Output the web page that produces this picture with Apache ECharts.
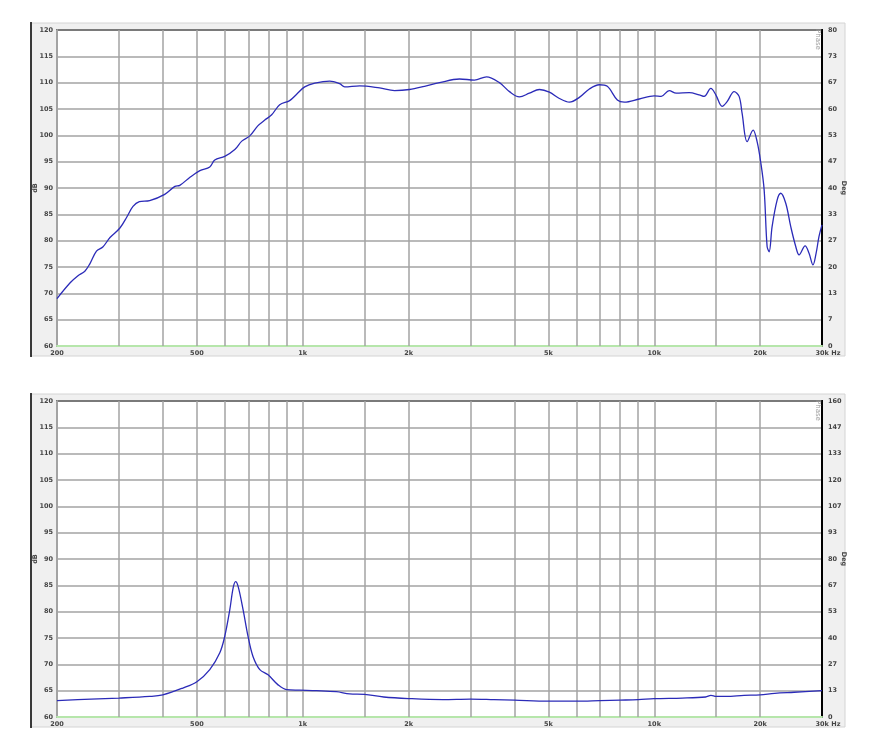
<!DOCTYPE html>
<html><head><meta charset="utf-8">
<script src="https://cdn.jsdelivr.net/npm/echarts@6/dist/echarts.min.js"></script>
<style>html,body{margin:0;padding:0;background:#fff}#c{width:875px;height:750px}</style>
</head><body><div id="c"></div>
<script>
// ---- data ----
const freqTop=[200,218,229,240,248,259,270,283,302,316,329,343,367,405,433,447,477,510,544,562,600,641,671,707,745,780,816,860,918,961,1013,1082,1193,1274,1316,1452,1655,1825,2013,2220,2450,2792,3080,3332,3628,3874,4134,4414,4714,5032,5372,5736,6122,6536,6978,7352,7852,8218,9066,10000,10468,11028,11544,12572,13418,13864,14482,14964,15596,16114,16870,17432,17774,18374,19104,19612,20092,20540,20940,21220,21640,22360,22900,23660,24440,25260,25820,26860,27560,28280,28860,29420,30000];
const splTop=[69.0,72.0,73.3,74.2,75.6,78.0,78.8,80.6,82.4,84.5,86.5,87.4,87.6,88.8,90.3,90.5,92.0,93.3,94.0,95.3,96.0,97.3,98.9,99.9,101.8,102.9,103.9,105.8,106.6,107.8,109.2,109.9,110.3,109.8,109.2,109.4,109.0,108.5,108.7,109.3,110.0,110.7,110.5,111.1,110.0,108.3,107.3,108.0,108.7,108.2,107.0,106.3,107.2,108.8,109.6,109.3,106.7,106.3,106.9,107.5,107.4,108.5,108.0,108.1,107.7,107.4,108.9,107.7,105.5,106.4,108.3,107.4,104.2,98.8,101.0,98.8,94.8,89.6,78.9,77.9,82.7,87.7,89.0,87.1,82.7,78.9,77.3,79.0,77.6,75.4,77.6,80.8,83.0];
const freqBot=[200,250,300,367,400,456,500,544,581,600,620,634,644,655,677,699,722,755,797,851,899,980,1094,1246,1360,1500,1700,2000,2500,3000,3500,4000,5000,6000,7000,8000,9000,10000,12000,14000,14500,15000,16000,18000,20000,22000,25000,30000];
const splBot=[63.1,63.4,63.6,63.9,64.2,65.5,66.7,69.0,72.2,75.3,80.3,84.5,85.7,84.8,80.3,75.3,71.5,69.0,68.0,66.1,65.2,65.1,65.0,64.8,64.4,64.3,63.8,63.5,63.3,63.4,63.3,63.2,63.0,63.0,63.1,63.2,63.3,63.5,63.6,63.8,64.1,63.9,63.9,64.1,64.2,64.5,64.7,65.0];
const gridFreqs=[300,400,500,600,700,800,900,1000,1500,2000,3000,4000,5000,6000,7000,8000,9000,10000,15000,20000];
const labelFreqs=[200,500,1000,2000,5000,10000,20000,30000];
const labelTexts=['200','500','1k','2k','5k','10k','20k','30k Hz'];
const rightTicksTop=[0,7,13,20,27,33,40,47,53,60,67,73,80];
const rightTicksBot=[0,13,27,40,53,67,80,93,107,120,133,147,160];

// ---- styling ----
const FONT={fontFamily:'DejaVu Sans',fontWeight:'bold',fontSize:6.5,color:'#444'};
const GRIDC='#a3a3a3';
const chart=echarts.init(document.getElementById('c'),null,{renderer:'canvas'});

const grids=[{top:30},{top:401}];
function panel(top){
  return [
    {type:'rect',z:-10,shape:{x:31,y:top-7,width:814,height:333},style:{fill:'#f0f0f0',stroke:'#d4d4d4',lineWidth:1}},
    {type:'line',z:-9,shape:{x1:31,y1:top-8,x2:31,y2:top+327},style:{stroke:'#000',lineWidth:1.5}},
    {type:'text',z:50,x:821,y:top-1,rotation:-Math.PI/2,style:{text:'Phase',fill:'#999',font:'7px DejaVu Sans'}}
  ];
}
function gridMarks(){
  const d=[];
  gridFreqs.forEach(f=>d.push({xAxis:f,label:{show:false}}));
  labelFreqs.forEach((f,i)=>d.push({xAxis:f,name:labelTexts[i],lineStyle:{color:'rgba(0,0,0,0)',width:0},
    label:{show:true,position:'start',formatter:'{b}',distance:4,offset:i===labelFreqs.length-1?[6,0]:[0,0],...FONT}}));
  return d;
}
const xAxes=[],yAxes=[],series=[];
grids.forEach((g,k)=>{
  xAxes.push({type:'log',logBase:10,gridIndex:k,min:200,max:30000,
    axisLine:{onZero:false,lineStyle:{color:'#b6e6ab',width:2}},axisTick:{show:false},axisLabel:{show:false},splitLine:{show:false}});
  yAxes.push({type:'value',gridIndex:k,min:60,max:120,interval:5,position:'left',
    name:'dB',nameLocation:'middle',nameRotate:90,nameGap:18,nameMoveOverlap:false,nameTextStyle:FONT,
    axisLine:{show:true,onZero:false,lineStyle:{color:GRIDC,width:2}},axisTick:{show:false},
    axisLabel:{...FONT,margin:4},splitLine:{lineStyle:{color:GRIDC,width:1.5}}});
  const rt=k===0?rightTicksTop:rightTicksBot;
  yAxes.push({type:'value',gridIndex:k,min:0,max:12,interval:1,position:'right',
    name:'Deg',nameLocation:'middle',nameRotate:-90,nameGap:18,nameMoveOverlap:false,nameTextStyle:FONT,
    axisLine:{show:true,onZero:false,lineStyle:{color:'#000',width:2}},axisTick:{show:false},
    axisLabel:{...FONT,margin:6,formatter:v=>String(rt[v])},splitLine:{show:false}});
  const fx=k===0?freqTop:freqBot, fy=k===0?splTop:splBot;
  const pts=fx.map((f,i)=>[f,fy[i]]);
  series.push({type:'line',xAxisIndex:k,yAxisIndex:2*k,data:pts,z:1,silent:true,showSymbol:false,
    lineStyle:{color:'rgba(0,0,0,0)'},
    markLine:{silent:true,symbol:['none','none'],animation:false,
      lineStyle:{type:'solid',color:GRIDC,width:1.5},data:gridMarks()}});
  series.push({type:'line',xAxisIndex:k,yAxisIndex:2*k,data:pts,z:5,showSymbol:false,smooth:0.35,
    lineStyle:{color:'#2b2bb8',width:1.3}});
});
chart.setOption({
  animation:false,
  grid:grids.map(g=>({left:57,width:765,top:g.top,height:316,show:true,backgroundColor:'#fff',borderColor:'#000',borderWidth:2})),
  graphic:{elements:[...panel(30),...panel(401)]},
  xAxis:xAxes,yAxis:yAxes,series:series
});
</script></body></html>
